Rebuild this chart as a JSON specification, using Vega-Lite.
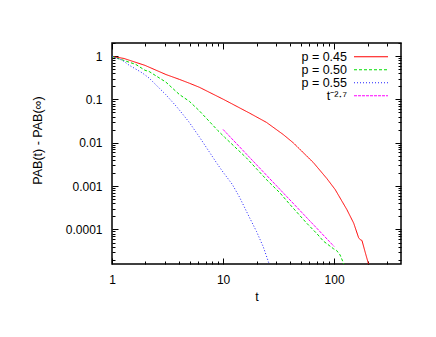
{
  "$schema": "https://vega.github.io/schema/vega-lite/v6.json",
  "width": 289,
  "height": 221,
  "autosize": {"type": "none"},
  "padding": {"left": 112, "top": 43, "right": 35, "bottom": 73},
  "background": "white",
  "config": {
    "font": "Liberation Sans",
    "view": {"stroke": "black", "strokeWidth": 1.5},
    "axis": {"domain": false, "grid": false, "tickColor": "black", "labelColor": "black", "titleColor": "black", "labelFont": "Liberation Sans", "titleFont": "Liberation Sans", "labelFontSize": 12, "titleFontSize": 12.5, "titleFontWeight": "normal"}
  },
  "data": {"values": [
    {"t": 1, "v": 0.98, "s": "p = 0.45"},
    {"t": 1.28, "v": 0.88, "s": "p = 0.45"},
    {"t": 1.98, "v": 0.61, "s": "p = 0.45"},
    {"t": 3.06, "v": 0.375, "s": "p = 0.45"},
    {"t": 4.04, "v": 0.29, "s": "p = 0.45"},
    {"t": 5, "v": 0.235, "s": "p = 0.45"},
    {"t": 6.13, "v": 0.19, "s": "p = 0.45"},
    {"t": 10.1, "v": 0.1, "s": "p = 0.45"},
    {"t": 17.4, "v": 0.048, "s": "p = 0.45"},
    {"t": 24.6, "v": 0.0295, "s": "p = 0.45"},
    {"t": 34.8, "v": 0.0155, "s": "p = 0.45"},
    {"t": 42.8, "v": 0.01, "s": "p = 0.45"},
    {"t": 65, "v": 0.0035, "s": "p = 0.45"},
    {"t": 85.9, "v": 0.0015, "s": "p = 0.45"},
    {"t": 102, "v": 0.00084, "s": "p = 0.45"},
    {"t": 130, "v": 0.00029, "s": "p = 0.45"},
    {"t": 150, "v": 0.00014, "s": "p = 0.45"},
    {"t": 166, "v": 0.000065, "s": "p = 0.45"},
    {"t": 172, "v": 0.000058, "s": "p = 0.45"},
    {"t": 178, "v": 0.000056, "s": "p = 0.45"},
    {"t": 191, "v": 0.000029, "s": "p = 0.45"},
    {"t": 207, "v": 0.000014, "s": "p = 0.45"},
    {"t": 1, "v": 0.98, "s": "p = 0.50"},
    {"t": 1.64, "v": 0.64, "s": "p = 0.50"},
    {"t": 1.98, "v": 0.47, "s": "p = 0.50"},
    {"t": 2.16, "v": 0.44, "s": "p = 0.50"},
    {"t": 3.06, "v": 0.25, "s": "p = 0.50"},
    {"t": 4.04, "v": 0.13, "s": "p = 0.50"},
    {"t": 4.98, "v": 0.09, "s": "p = 0.50"},
    {"t": 6.1, "v": 0.055, "s": "p = 0.50"},
    {"t": 9, "v": 0.019, "s": "p = 0.50"},
    {"t": 10.3, "v": 0.0135, "s": "p = 0.50"},
    {"t": 16.2, "v": 0.0045, "s": "p = 0.50"},
    {"t": 25.4, "v": 0.0013, "s": "p = 0.50"},
    {"t": 32.5, "v": 0.0007, "s": "p = 0.50"},
    {"t": 39.9, "v": 0.00038, "s": "p = 0.50"},
    {"t": 56.6, "v": 0.00014, "s": "p = 0.50"},
    {"t": 70, "v": 0.00008, "s": "p = 0.50"},
    {"t": 80, "v": 0.000054, "s": "p = 0.50"},
    {"t": 90, "v": 0.000043, "s": "p = 0.50"},
    {"t": 98.6, "v": 0.000036, "s": "p = 0.50"},
    {"t": 105, "v": 0.000033, "s": "p = 0.50"},
    {"t": 113, "v": 0.000026, "s": "p = 0.50"},
    {"t": 120, "v": 0.000018, "s": "p = 0.50"},
    {"t": 126, "v": 0.000013, "s": "p = 0.50"},
    {"t": 1, "v": 0.98, "s": "p = 0.55"},
    {"t": 1.24, "v": 0.8, "s": "p = 0.55"},
    {"t": 1.42, "v": 0.62, "s": "p = 0.55"},
    {"t": 1.87, "v": 0.41, "s": "p = 0.55"},
    {"t": 2.16, "v": 0.31, "s": "p = 0.55"},
    {"t": 3.04, "v": 0.13, "s": "p = 0.55"},
    {"t": 3.77, "v": 0.0705, "s": "p = 0.55"},
    {"t": 4.04, "v": 0.057, "s": "p = 0.55"},
    {"t": 4.94, "v": 0.03, "s": "p = 0.55"},
    {"t": 6.1, "v": 0.0138, "s": "p = 0.55"},
    {"t": 8.7, "v": 0.0035, "s": "p = 0.55"},
    {"t": 10, "v": 0.0021, "s": "p = 0.55"},
    {"t": 12.1, "v": 0.0011, "s": "p = 0.55"},
    {"t": 14.1, "v": 0.00055, "s": "p = 0.55"},
    {"t": 17.1, "v": 0.0002, "s": "p = 0.55"},
    {"t": 20, "v": 0.00009, "s": "p = 0.55"},
    {"t": 23, "v": 0.00004, "s": "p = 0.55"},
    {"t": 26, "v": 0.000016, "s": "p = 0.55"},
    {"t": 27, "v": 0.000012, "s": "p = 0.55"},
    {"t": 10, "v": 0.0203, "s": "t⁻²·⁷"},
    {"t": 100, "v": 0.0000405, "s": "t⁻²·⁷"}
  ]},
  "layer": [
    {
      "mark": {"type": "line", "strokeWidth": 1, "clip": true},
      "encoding": {
        "x": {"field": "t", "type": "quantitative",
          "scale": {"type": "log", "domain": [1, 400], "nice": false},
          "axis": {"orient": "bottom", "values": [1,2,3,4,5,6,7,8,9,10,20,30,40,50,60,70,80,90,100,200,300],
            "labelExpr": "datum.value == 1 ? '1' : datum.value == 10 ? '10' : datum.value == 100 ? '100' : ''",
            "tickSize": {"condition": {"test": "datum.value == 1 || datum.value == 10 || datum.value == 100", "value": -6}, "value": -3},
            "labelPadding": 16, "labelFlush": false, "title": "t", "titleX": 144.5, "titleY": 36, "titleBaseline": "alphabetic"}},
        "y": {"field": "v", "type": "quantitative",
          "scale": {"type": "log", "domain": [0.000016, 2], "nice": false},
          "axis": {"orient": "left", "values": [0.00002,0.00003,0.00004,0.00005,0.00006,0.00007,0.00008,0.00009,0.0001,0.0002,0.0003,0.0004,0.0005,0.0006,0.0007,0.0008,0.0009,0.001,0.002,0.003,0.004,0.005,0.006,0.007,0.008,0.009,0.01,0.02,0.03,0.04,0.05,0.06,0.07,0.08,0.09,0.1,0.2,0.3,0.4,0.5,0.6,0.7,0.8,0.9,1,2],
            "labelExpr": "datum.value == 1 ? '1' : datum.value == 0.1 ? '0.1' : datum.value == 0.01 ? '0.01' : datum.value == 0.001 ? '0.001' : datum.value == 0.0001 ? '0.0001' : ''",
            "tickSize": {"condition": {"test": "datum.value == 1 || datum.value == 0.1 || datum.value == 0.01 || datum.value == 0.001 || datum.value == 0.0001", "value": -6}, "value": -3},
            "labelPadding": 16, "labelFlush": false,
            "title": "PAB(t)  -  PAB(∞)", "titleX": -71, "titleY": 97, "titleBaseline": "alphabetic", "titleAngle": -90}},
        "color": {"field": "s", "type": "nominal",
          "scale": {"domain": ["p = 0.45", "p = 0.50", "p = 0.55", "t⁻²·⁷"], "range": ["#ff0000", "#00dd00", "#2020ff", "#ff00ff"]},
          "legend": {"title": null, "orient": "none", "legendX": 252.75, "legendY": 7.5,
            "symbolType": "M-4,0H4", "symbolSize": 72.25, "symbolStrokeWidth": 1,
            "labelFontSize": 12.5, "labelFont": "Liberation Sans", "labelColor": "black", "labelAlign": "right", "labelOffset": -30.25, "rowPadding": -0.7, "padding": 0,
            "encode": {"symbols": {"update": {"stroke": {"scale": "color", "field": "value"}, "strokeDash": {"scale": "strokeDash", "field": "value"}, "fill": {"value": "transparent"}, "opacity": {"value": 1}}}}}},
        "strokeDash": {"field": "s", "type": "nominal",
          "scale": {"domain": ["p = 0.45", "p = 0.50", "p = 0.55", "t⁻²·⁷"], "range": [[1, 0], [3, 2], [1, 2], [3, 1]]},
          "legend": null}
      }
    },
    {
      "mark": {"type": "line", "opacity": 0},
      "encoding": {
        "x": {"field": "t", "type": "quantitative",
          "scale": {"type": "log", "domain": [1, 400], "nice": false},
          "axis": {"orient": "top", "values": [1,2,3,4,5,6,7,8,9,10,20,30,40,50,60,70,80,90,100,200,300], "labels": false, "title": null,
            "tickSize": {"condition": {"test": "datum.value == 1 || datum.value == 10 || datum.value == 100", "value": -6}, "value": -3}}},
        "y": {"field": "v", "type": "quantitative",
          "scale": {"type": "log", "domain": [0.000016, 2], "nice": false},
          "axis": {"orient": "right", "values": [0.00002,0.00003,0.00004,0.00005,0.00006,0.00007,0.00008,0.00009,0.0001,0.0002,0.0003,0.0004,0.0005,0.0006,0.0007,0.0008,0.0009,0.001,0.002,0.003,0.004,0.005,0.006,0.007,0.008,0.009,0.01,0.02,0.03,0.04,0.05,0.06,0.07,0.08,0.09,0.1,0.2,0.3,0.4,0.5,0.6,0.7,0.8,0.9,1,2], "labels": false, "title": null,
            "tickSize": {"condition": {"test": "datum.value == 1 || datum.value == 0.1 || datum.value == 0.01 || datum.value == 0.001 || datum.value == 0.0001", "value": -6}, "value": -3}}}
      }
    }
  ],
  "resolve": {"scale": {"x": "independent", "y": "independent"}}
}
